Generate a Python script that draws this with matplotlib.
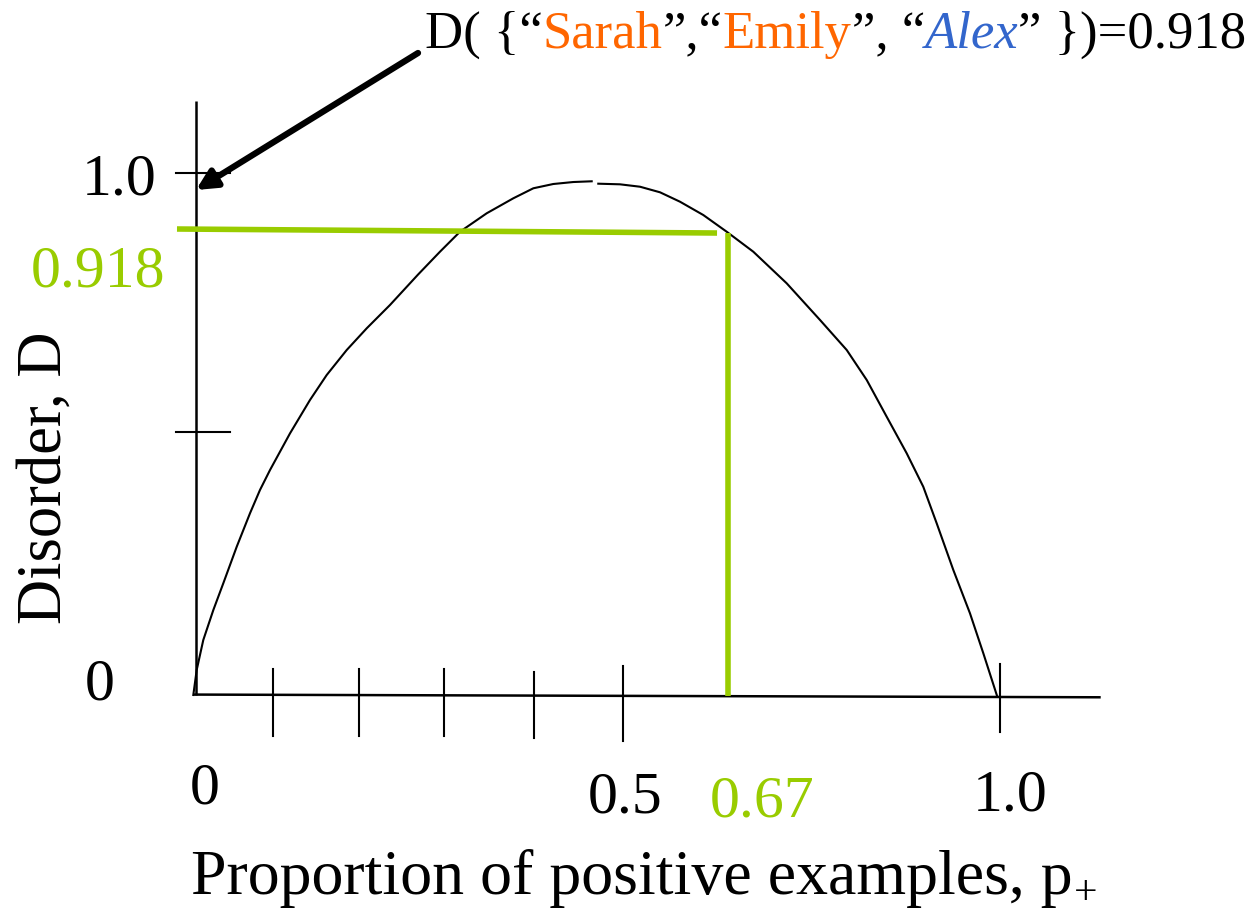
import matplotlib
matplotlib.use('Agg')
import matplotlib.pyplot as plt
from matplotlib.offsetbox import TextArea, HPacker, AnchoredOffsetbox

plt.rcParams['font.family'] = ['Liberation Serif', 'DejaVu Serif']

GREEN = '#99CC00'
ORANGE = '#FF6600'
BLUE = '#3366CC'

# disorder curve (p, D), drawn as two strokes with a small gap at the top
curve_left_p = [-0.0021, 0.0021, 0.0103, 0.0228, 0.0352, 0.0519, 0.0684, 0.0808, 0.0933,
                0.1182, 0.1430, 0.1638, 0.1887, 0.2136, 0.2425, 0.2774, 0.3047, 0.3296,
                0.3628, 0.3959, 0.4208, 0.4456, 0.4705, 0.4934]
curve_left_d = [-0.0019, 0.0460, 0.1034, 0.1609, 0.2121, 0.2822, 0.3462, 0.3908, 0.4291,
                0.4994, 0.5632, 0.6111, 0.6590, 0.7006, 0.7452, 0.8035, 0.8473, 0.8856,
                0.9209, 0.9496, 0.9688, 0.9770, 0.9808, 0.9822]
curve_right_p = [0.5016, 0.5286, 0.5535, 0.5784, 0.6032, 0.6322, 0.6613, 0.6944, 0.7359,
                 0.7774, 0.8106, 0.8355, 0.8603, 0.8852, 0.9058, 0.9225, 0.9432, 0.9639,
                 0.9805, 0.9979]
curve_right_d = [0.9776, 0.9764, 0.9718, 0.9611, 0.9431, 0.9176, 0.8856, 0.8473, 0.7868,
                 0.7165, 0.6590, 0.6015, 0.5312, 0.4611, 0.3971, 0.3270, 0.2375, 0.1546,
                 0.0780, -0.0052]

# hand drawn axes
yaxis_p = [0.0009, 0.0009]
yaxis_d = [1.1366, -0.001]
xaxis_p = [-0.0025, 1.1265]
xaxis_d = [-0.0011, -0.0063]

# tick marks
ytick_d = [0.9986, 0.5019]
ytick_span = [-0.0236, 0.0435]
xtick_p = [0.0974, 0.2044, 0.3101, 0.4221, 0.5320, 1.0009]
xtick_top = [0.0479, 0.0479, 0.0479, 0.0421, 0.0536, 0.0575]
xtick_bot = [-0.0805, -0.0805, -0.0805, -0.0843, -0.0900, -0.0728]

# highlighted point p=0.67, D=0.918
green_h_p = [-0.0224, 0.6493]
green_h_d = [0.8908, 0.8831]
green_v_p = [0.6629, 0.6629]
green_v_d = [0.8831, -0.0038]

# labels
ylabels = ['1.0', '0.918', '0']
ylabel_pos = [(-0.0945, 0.956), (-0.1206, 0.7816), (-0.1182, -0.0096)]
ylabel_col = ['black', GREEN, 'black']
xlabels = ['0', '0.5', '0.67', '1.0']
xlabel_pos = [(0.0119, -0.2107), (0.5356, -0.2261), (0.7052, -0.2356), (1.0137, -0.2232)]
xlabel_col = ['black', 'black', GREEN, 'black']

title_parts = ['D( {“', 'Sarah', '”,“', 'Emily', '”, “', 'Alex', '” })=0.918']
title_cols = ['black', ORANGE, 'black', ORANGE, 'black', BLUE, 'black']
title_style = ['normal', 'normal', 'normal', 'normal', 'normal', 'italic', 'normal']

arrow_from = (0.2774, 1.228)
arrow_to = (0.0012, 0.9655)

fig = plt.figure(figsize=(12.47, 9.17), dpi=100)
ax = fig.add_axes([0, 0, 1, 1])
ax.set_xlim(-0.24254, 1.30846)
ax.set_ylim(-0.42720, 1.32950)
ax.axis('off')

ax.plot(yaxis_p, yaxis_d, color='black', lw=1.8, solid_capstyle='butt')
ax.plot(xaxis_p, xaxis_d, color='black', lw=1.8, solid_capstyle='butt')
for d in ytick_d:
    ax.plot(ytick_span, [d, d], color='black', lw=1.5)
for p, t, b in zip(xtick_p, xtick_top, xtick_bot):
    ax.plot([p, p], [t, b], color='black', lw=1.5)

ax.plot(curve_left_p, curve_left_d, color='black', lw=1.5, solid_joinstyle='round')
ax.plot(curve_right_p, curve_right_d, color='black', lw=1.5, solid_joinstyle='round')

ax.plot(green_h_p, green_h_d, color=GREEN, lw=4, solid_capstyle='butt')
ax.plot(green_v_p, green_v_d, color=GREEN, lw=4, solid_capstyle='butt')

for s, (x, y), c in zip(ylabels, ylabel_pos, ylabel_col):
    ax.text(x, y, s, color=c, fontsize=43, ha='center', va='baseline')
for s, (x, y), c in zip(xlabels, xlabel_pos, xlabel_col):
    ax.text(x, y, s, color=c, fontsize=43, ha='center', va='baseline')

ax.text(-0.0055, -0.383, 'Proportion of positive examples, p', fontsize=46,
        ha='left', va='baseline')
ax.text(1.108, -0.4023, '+', fontsize=30, ha='center', va='baseline')
ax.text(-0.1853, 0.4138, 'Disorder, D', fontsize=45, rotation=90, ha='center', va='center')

boxes = [TextArea(s, textprops=dict(color=c, fontsize=38, fontstyle=st))
         for s, c, st in zip(title_parts, title_cols, title_style)]
pack = HPacker(children=boxes, align='baseline', pad=0, sep=0)
box = AnchoredOffsetbox(loc='lower left', child=pack, pad=0, borderpad=0, frameon=False,
                        bbox_to_anchor=(0.286, 1.216), bbox_transform=ax.transData)
ax.add_artist(box)

ax.annotate('', xy=arrow_to, xytext=arrow_from,
            arrowprops=dict(arrowstyle='-|>,head_length=0.6,head_width=0.3', lw=4.5,
                            color='black', shrinkA=0, shrinkB=0, mutation_scale=20))

fig.savefig('out.png', dpi=100)
